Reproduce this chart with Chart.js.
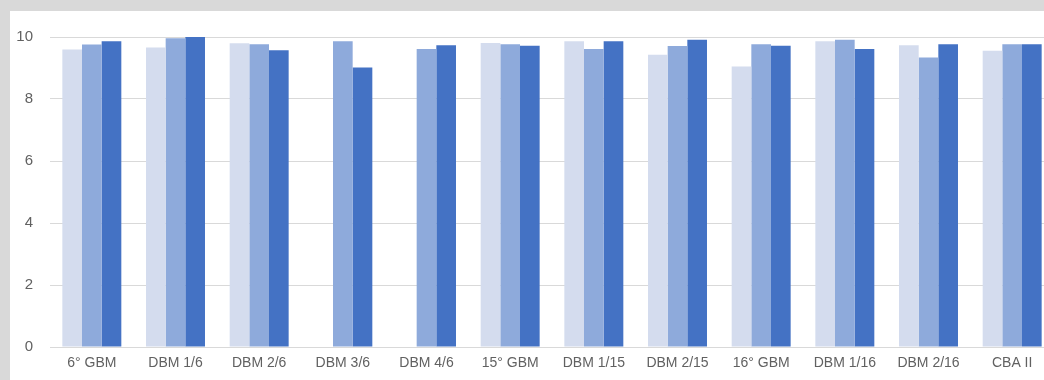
<!DOCTYPE html>
<html>
<head>
<meta charset="utf-8">
<script src="https://cdn.jsdelivr.net/npm/chart.js@4/dist/chart.umd.min.js"></script>
<style>
  html, body { margin: 0; padding: 0; background: #d9d9d9; overflow: hidden; width: 1044px; height: 380px; }
  #panel { position: absolute; left: 10px; top: 11px; width: 1044px; height: 369px; background: #ffffff; }
</style>
</head>
<body>
<div id="panel"><canvas id="chart" width="1044" height="369"></canvas></div>
<script>
// categories along the x axis
const categories = ['6° GBM', 'DBM 1/6', 'DBM 2/6', 'DBM 3/6', 'DBM 4/6', '15° GBM',
  'DBM 1/15', 'DBM 2/15', '16° GBM', 'DBM 1/16', 'DBM 2/16', 'CBA II'];

// three series (null = no bar)
const seriesLight = [9.60, 9.66, 9.80, null, null, 9.81, 9.86, 9.43, 9.05, 9.86, 9.73, 9.56];
const seriesMid = [9.76, 9.96, 9.77, 9.86, 9.61, 9.77, 9.61, 9.71, 9.77, 9.91, 9.34, 9.77];
const seriesDark = [9.86, 10.0, 9.57, 9.02, 9.73, 9.72, 9.86, 9.91, 9.72, 9.61, 9.77, 9.77];

const yTicks = [0, 2, 4, 6, 8, 10];

const fontFamily = "'Liberation Sans', Arial, sans-serif";

const ctx = document.getElementById('chart').getContext('2d');
new Chart(ctx, {
  type: 'bar',
  data: {
    labels: categories,
    datasets: [
      { label: 'A', data: seriesLight, backgroundColor: '#d4dcee' },
      { label: 'B', data: seriesMid, backgroundColor: '#8eaadb' },
      { label: 'C', data: seriesDark, backgroundColor: '#4472c4' }
    ]
  },
  options: {
    responsive: false,
    animation: false,
    layout: { padding: { top: 25, right: 0, left: 0, bottom: 0 } },
    datasets: { bar: { categoryPercentage: 0.705, barPercentage: 1.0 } },
    plugins: { legend: { display: false }, tooltip: { enabled: false } },
    scales: {
      x: {
        grid: { display: false, drawTicks: false },
        border: { display: true, color: '#d9d9d9', width: 1 },
        ticks: { color: '#616161', font: { family: fontFamily, size: 14 }, padding: 8, maxRotation: 0, autoSkip: false },
        afterFit: function(scale) { scale.height = 33; }
      },
      y: {
        min: 0,
        max: 10,
        afterBuildTicks: function(scale) { scale.ticks = yTicks.map(v => ({ value: v })); },
        grid: { color: '#d9d9d9', drawTicks: false },
        border: { display: false },
        ticks: { color: '#616161', font: { family: fontFamily, size: 15 }, padding: 17 },
        afterFit: function(scale) { scale.width = 40; }
      }
    }
  }
});
</script>
</body>
</html>
